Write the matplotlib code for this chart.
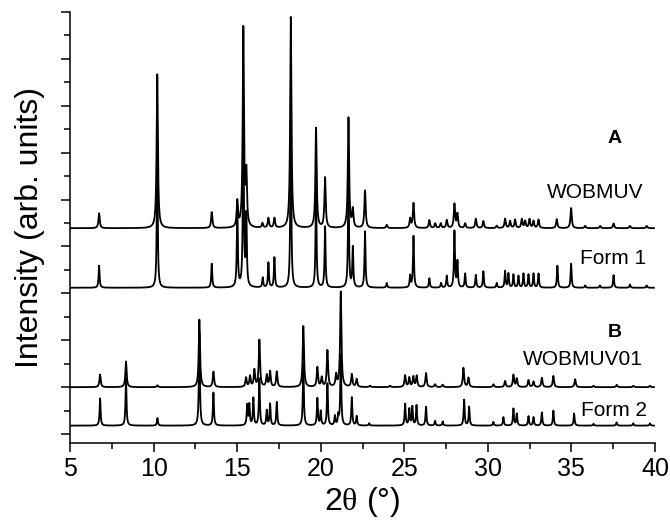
import numpy as np
import matplotlib
matplotlib.use("Agg")
from matplotlib import pyplot as plt
from matplotlib.ticker import MultipleLocator

plt.rcParams['font.family'] = ['Liberation Sans', 'DejaVu Sans']
plt.rcParams['mathtext.fontset'] = 'custom'
plt.rcParams['mathtext.rm'] = 'Liberation Serif'

# peak lists: (2theta, height) in stacked-plot units
wobmuv_peaks = [(6.74, 0.32), (10.22, 3.28), (13.48, 0.34), (15.01, 0.55), (15.37, 4.24),
                (15.55, 1.1), (16.51, 0.1), (16.87, 0.21), (17.23, 0.21), (18.21, 4.5),
                (19.72, 2.13), (20.26, 1.07), (21.66, 2.35), (21.92, 0.38), (22.65, 0.8),
                (23.95, 0.07), (25.35, 0.2), (25.55, 0.53), (26.5, 0.17), (26.85, 0.1),
                (27.18, 0.1), (27.54, 0.17), (28.0, 0.51), (28.18, 0.3), (28.64, 0.1),
                (29.28, 0.2), (29.73, 0.15), (30.53, 0.05), (31.03, 0.2), (31.33, 0.15),
                (31.63, 0.18), (32.03, 0.19), (32.23, 0.15), (32.49, 0.19), (32.73, 0.15),
                (33.03, 0.18), (34.12, 0.19), (34.98, 0.43), (35.82, 0.05), (36.72, 0.05),
                (37.52, 0.1), (38.5, 0.05), (39.5, 0.05)]
form1_peaks = [(6.74, 0.47), (10.22, 2.77), (13.48, 0.51), (15.01, 1.7), (15.37, 3.7),
               (15.55, 1.5), (16.53, 0.21), (16.87, 0.53), (17.23, 0.64), (18.21, 3.67),
               (19.72, 2.1), (20.26, 1.3), (21.66, 2.3), (21.92, 0.85), (22.65, 1.2),
               (23.95, 0.1), (25.35, 0.25), (25.55, 1.1), (26.5, 0.2), (27.2, 0.1),
               (27.54, 0.25), (28.0, 1.2), (28.18, 0.55), (28.64, 0.3), (29.28, 0.27),
               (29.73, 0.35), (30.53, 0.1), (31.03, 0.35), (31.23, 0.3), (31.53, 0.28),
               (31.83, 0.25), (32.13, 0.3), (32.43, 0.28), (32.73, 0.3), (33.03, 0.3),
               (34.16, 0.47), (34.98, 0.51), (35.82, 0.05), (36.7, 0.05), (37.52, 0.27),
               (38.5, 0.07), (39.5, 0.05)]
wobmuv01_peaks = [(6.8, 0.27), (8.35, 0.55), (10.23, 0.04), (12.74, 1.44), (13.58, 0.33),
                  (15.53, 0.2), (15.77, 0.23), (16.03, 0.36), (16.33, 1.0), (16.77, 0.25),
                  (16.97, 0.33), (17.37, 0.33), (18.96, 1.3), (19.8, 0.42), (20.06, 0.2),
                  (20.4, 0.78), (20.92, 0.25), (21.2, 2.03), (21.86, 0.27), (22.15, 0.17),
                  (22.95, 0.03), (24.15, 0.03), (25.05, 0.25), (25.3, 0.2), (25.54, 0.22),
                  (25.74, 0.24), (26.3, 0.3), (26.84, 0.06), (27.3, 0.05), (28.54, 0.41),
                  (28.84, 0.2), (30.33, 0.06), (31.03, 0.13), (31.53, 0.26), (31.73, 0.18),
                  (32.43, 0.15), (32.73, 0.12), (33.23, 0.2), (33.92, 0.24), (35.22, 0.17),
                  (36.32, 0.03), (37.71, 0.05), (38.71, 0.03), (39.7, 0.03)]
form2_peaks = [(6.8, 0.58), (8.35, 1.0), (10.23, 0.16), (12.74, 2.0), (13.58, 0.7),
               (15.6, 0.43), (15.73, 0.44), (15.97, 0.58), (16.33, 1.0), (16.77, 0.32),
               (16.97, 0.46), (17.37, 0.5), (18.96, 1.3), (19.8, 0.58), (20.0, 0.3),
               (20.4, 0.9), (20.85, 0.2), (21.05, 0.2), (21.2, 1.5), (21.86, 0.6),
               (22.15, 0.2), (22.9, 0.05), (25.05, 0.46), (25.3, 0.35), (25.48, 0.4),
               (25.73, 0.43), (26.3, 0.4), (26.84, 0.1), (27.3, 0.09), (28.58, 0.55),
               (28.88, 0.4), (30.33, 0.08), (30.93, 0.18), (31.53, 0.36), (31.73, 0.25),
               (32.43, 0.2), (32.73, 0.18), (33.23, 0.28), (33.92, 0.32), (35.16, 0.26),
               (36.32, 0.04), (37.7, 0.07), (38.7, 0.05), (39.7, 0.05)]

# vertical offsets of the stacked patterns
offsets = {'WOBMUV': 4.39, 'Form 1': 3.12, 'WOBMUV01': 1.0, 'Form 2': 0.18}

two_theta = np.arange(5.0, 39.95, 0.01)


def pattern(peaks, hw):
    # lorentzian line shape around each peak
    y = np.zeros_like(two_theta)
    for c, h in peaks:
        y += h / (1 + ((two_theta - c) / hw) ** 2)
    return y


fig = plt.figure(figsize=(6.7, 5.26), dpi=100)
ax = fig.add_axes([70 / 670, 83 / 526, 585 / 670, 431 / 526])

ax.plot(two_theta, offsets['WOBMUV'] + pattern(wobmuv_peaks, 0.045), 'k-', lw=1.3)
ax.plot(two_theta, offsets['Form 1'] + pattern(form1_peaks, 0.035), 'k-', lw=1.3)
ax.plot(two_theta, offsets['WOBMUV01'] + pattern(wobmuv01_peaks, 0.045), 'k-', lw=1.3)
ax.plot(two_theta, offsets['Form 2'] + pattern(form2_peaks, 0.035), 'k-', lw=1.3)

ax.set_xlim(5, 40)
ax.set_ylim(-0.19, 9)
ax.xaxis.set_major_locator(MultipleLocator(5))
ax.xaxis.set_minor_locator(MultipleLocator(2.5))
ax.yaxis.set_major_locator(MultipleLocator(1))
ax.yaxis.set_minor_locator(MultipleLocator(0.5))
ax.set_yticklabels([])
ax.tick_params(which='major', direction='out', length=6.5, width=1.1, labelsize=18)
ax.tick_params(which='minor', direction='out', length=4.5, width=1.1)
ax.spines['top'].set_visible(False)
ax.spines['right'].set_visible(False)
ax.spines['left'].set_linewidth(1.1)
ax.spines['bottom'].set_linewidth(1.1)

ax.set_xlabel(r'2$\mathrm{θ}$ (°)', fontsize=23, labelpad=3)
ax.set_ylabel('Intensity (arb. units)', fontsize=23, labelpad=8)

ax.text(37.6, 6.31, 'A', fontsize=14, fontweight='bold', ha='center', va='center')
ax.text(39.29, 5.16, 'WOBMUV', fontsize=15, ha='right', va='center')
ax.text(39.47, 3.75, 'Form 1', fontsize=15, ha='right', va='center')
ax.text(37.6, 2.17, 'B', fontsize=14, fontweight='bold', ha='center', va='center')
ax.text(39.29, 1.58, 'WOBMUV01', fontsize=15, ha='right', va='center')
ax.text(39.53, 0.51, 'Form 2', fontsize=15, ha='right', va='center')

plt.savefig('out.png', dpi=100)
